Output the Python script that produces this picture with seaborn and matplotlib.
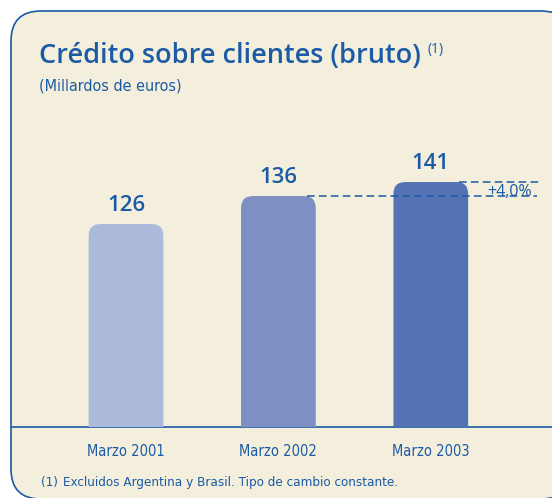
import matplotlib
matplotlib.use("Agg")
import matplotlib.pyplot as plt
from matplotlib.patches import FancyBboxPatch
from matplotlib import font_manager
import pandas as pd
import seaborn as sns

# data
periodos = ["Marzo 2001", "Marzo 2002", "Marzo 2003"]
credito = [126, 136, 141]
etiquetas = ["126", "136", "141"]
variacion = "+4,0%"
colores = ["#abb9db", "#7e90c3", "#5373b4"]

titulo = "Crédito sobre clientes (bruto)"
subtitulo = "(Millardos de euros)"
nota = "Excluidos Argentina y Brasil. Tipo de cambio constante."

azul = "#1a5aa6"
fondo = "#f3efdc"

# look for a condensed face for the small texts
estrecha = {"family": "Open Sans"}
for f in font_manager.fontManager.ttflist:
    nm = f.name.lower()
    if "narrow" in nm or "condensed" in nm:
        estrecha = {"family": f.name}
        break
    if str(f.stretch).lower() in ("condensed", "semi-condensed") or f.stretch in (300, 400):
        if f.weight in (400, "normal", "regular"):
            estrecha = {"family": f.name, "stretch": f.stretch}
            break
condensada = estrecha["family"] != "Open Sans"

df = pd.DataFrame({"periodo": periodos, "credito": credito})

sns.set_style("white")
plt.rcParams["font.family"] = ["Open Sans", "DejaVu Sans"]

fig = plt.figure(figsize=(5.52, 4.98), dpi=100)
fig.patch.set_facecolor("white")

# background panel in pixel coords
bg = fig.add_axes([0, 0, 1, 1], zorder=0)
bg.set_xlim(0, 552)
bg.set_ylim(498, 0)
bg.axis("off")
panel = FancyBboxPatch((11, 11), 560, 488, boxstyle="round,pad=0,rounding_size=30",
                       facecolor=fondo, edgecolor=azul, lw=1.2)
bg.add_patch(panel)
bg.plot([11, 552], [427.3, 427.3], color=azul, lw=1.2, solid_capstyle="butt")

fs_small = 10.5 if condensada else 10.2
fs_note = 9.6 if condensada else 9.2
sx = dict(fontstretch=estrecha["stretch"]) if "stretch" in estrecha else {}

bg.text(39, 62.5, titulo, fontsize=19.5, color=azul, weight="semibold", va="baseline")
bg.text(427, 53, "(1)", fontsize=10, color=azul, va="baseline")
bg.text(39, 86, subtitulo, fontsize=11.5 if condensada else 10.5, color=azul, va="center",
        family=estrecha["family"], **sx)
bg.text(41, 482, "(1)", fontsize=fs_note, color=azul, va="center",
        family=estrecha["family"], **sx)
bg.text(63, 482, nota, fontsize=fs_note, color=azul, va="center",
        family=estrecha["family"], **sx)

# bars: 2.8 px per unit, axis starts at 53.4 (no value axis shown)
kpx = 2.8
y0, y1 = 53.4, 150
ax = fig.add_axes([49.8 / 552, (498 - 427.3) / 498, 457.2 / 552, (y1 - y0) * kpx / 498],
                  zorder=1)
ax.patch.set_alpha(0)
sns.barplot(data=df, x="periodo", y="credito", hue="periodo", palette=colores,
            width=0.49, legend=False, ax=ax, saturation=1)
ax.set_xlim(-0.5, 2.5)
ax.set_ylim(y0, y1)

rx = 12 / 152.4
ry = 12 / kpx
for p in list(ax.patches):
    x, w, h = p.get_x(), p.get_width(), p.get_height()
    fc = p.get_facecolor()
    p.remove()
    ax.add_patch(FancyBboxPatch((x, 0), w, h, boxstyle=f"round,pad=0,rounding_size={rx}",
                                mutation_aspect=ry / rx, facecolor=fc, edgecolor="none"))

for i, (v, t) in enumerate(zip(credito, etiquetas)):
    ax.annotate(t, (i, v), xytext=(0, 13), textcoords="offset points", ha="center",
                va="center", fontsize=16, weight="semibold", color=azul)

# variation lines
ax.plot([1.188, 2.697], [credito[1], credito[1]], color=azul, lw=1.1, ls=(0, (5, 2.8)),
        clip_on=False, zorder=5)
ax.plot([2.185, 2.717], [credito[2], credito[2]], color=azul, lw=1.1, ls=(0, (5, 2.8)),
        clip_on=False, zorder=5)
ax.annotate(variacion, (2.52, (credito[1] + credito[2]) / 2), xytext=(0, -2),
            textcoords="offset points", ha="center", va="center",
            fontsize=11.5, color=azul, annotation_clip=False)

ax.set_xlabel("")
ax.set_ylabel("")
ax.set_yticks([])
ax.tick_params(axis="x", length=0, pad=12, labelcolor=azul)
for lab in ax.get_xticklabels():
    lab.set_family(estrecha["family"])
    if sx:
        lab.set_fontstretch(sx["fontstretch"])
    lab.set_fontsize(fs_small)
sns.despine(ax=ax, left=True, bottom=True)

fig.savefig("out.png", dpi=100, facecolor="white")
